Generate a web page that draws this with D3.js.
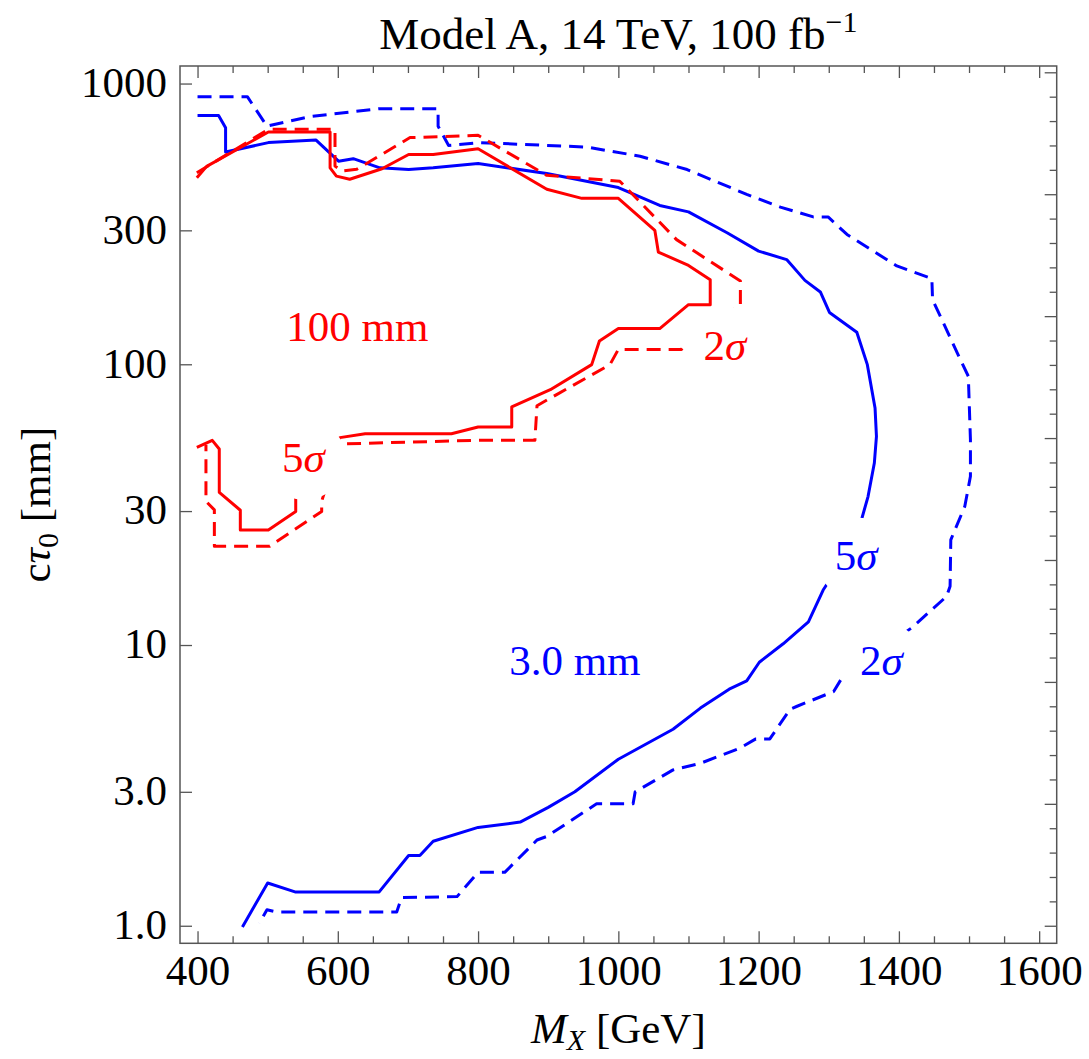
<!doctype html>
<html>
<head>
<meta charset="UTF-8">
<title>Model A, 14 TeV, 100 fb-1</title>
<script src="https://cdn.jsdelivr.net/npm/d3@7"></script>
<style>
  body { margin: 0; background: #fff; }
  svg text { font-family: "Liberation Serif", "Times New Roman", serif; fill: #000; }
</style>
</head>
<body>
<svg id="chart" width="1089" height="1059"></svg>
<script>
// axis ticks
const xTicks = [400, 600, 800, 1000, 1200, 1400, 1600];
const yTicks = [1, 3, 10, 30, 100, 300, 1000];
const yTickLabels = ["1.0", "3.0", "10", "30", "100", "300", "1000"];

// contours, [M_X in GeV, c tau0 in mm]
// 3.0 mm, 5 sigma (blue solid)
const blue5 = [[400,770],[430,770],[440,696],[440,570],[501,616],[569,629],[601,529],[622,540],[660,501],[701,494],[736,501],[800,519],[898,478],[1000,426],[1059,368],[1100,349],[1155,294],[1200,253],[1240,236],[1266,199],[1288,181],[1301,153],[1340,130],[1355,99.7],[1366,69.9],[1368,55.4],[1365,44.5],[1356,33.8],[1345,27.0],[1323,20.6],[1292,15.7],[1271,12.1],[1235,10.1],[1201,8.68],[1183,7.45],[1158,6.96],[1117,5.96],[1078,5.01],[1000,3.92],[938,3.0],[900,2.64],[860,2.34],[800,2.24],[736,2.0],[717,1.78],[701,1.78],[659,1.32],[539,1.32],[500,1.42],[464,0.99]];
// 3.0 mm, 2 sigma (blue dashed)
const blue2 = [[400,898],[471,898],[499,705],[560,762],[660,814],[743,814],[743,705],[758,602],[803,616],[955,594],[1031,551],[1098,494],[1183,403],[1231,363],[1278,335],[1299,335],[1326,290],[1397,224],[1447,202],[1448,170],[1483,110],[1499,90.6],[1502,53.9],[1502,39.9],[1494,31.2],[1474,23.7],[1473,16.2],[1468,14.9],[1418,11.5],[1323,7.94],[1307,6.83],[1254,6.04],[1245,5.91],[1216,4.63],[1196,4.63],[1174,4.30],[1117,3.79],[1078,3.59],[1024,3.0],[1021,2.72],[969,2.72],[898,2.08],[884,2.02],[838,1.55],[800,1.55],[770,1.27],[691,1.26],[684,1.12],[513,1.12],[499,1.14],[488,1.02]];
// 100 mm, 5 sigma (red solid)
const red5 = [[399,462],[413,507],[501,672],[589,672],[589,501],[598,468],[617,456],[663,497],[701,559],[736,559],[800,586],[898,420],[948,390],[1000,390],[1052,300],[1057,251],[1100,225],[1131,200],[1131,163],[1100,163],[1059,134],[1000,134],[973,121],[962,99.7],[903,81.2],[848,70.5],[848,59.8],[800,59.8],[762,56.6],[639,56.6],[603,54.8],[540,34.3],[540,29.9],[501,25.7],[461,25.7],[461,30.2],[431,35.0],[431,49.9],[421,53.6],[399,50.6]];
// 100 mm, 2 sigma (red dashed)
const red2 = [[399,481],[501,687],[596,687],[596,508],[606,488],[627,495],[703,642],[800,654],[898,471],[1002,449],[1083,278],[1174,198],[1174,163],[1098,121],[1090,113],[1000,113],[988,99.7],[912,78.0],[884,71.2],[881,53.6],[796,53.6],[602,52.0],[577,32.5],[577,29.9],[503,22.5],[424,22.5],[424,30.3],[412,32.5],[412,51.7]];

const contours = [
  {pts: blue5, color: "#0000ff", dash: null},
  {pts: blue2, color: "#0000ff", dash: "14,8"},
  {pts: red5, color: "#ff0000", dash: null},
  {pts: red2, color: "#ff0000", dash: "14,8"}
];

// labels: text, sigma?, anchor [M, ctau], colour
const labels = [
  {num: "100 mm", sig: false, at: [628, 120.8], color: "#ff0000"},
  {num: "3.0 mm", sig: false, at: [938, 7.83], color: "#0000ff"},
  {num: "5", sig: true, at: [551, 41.2], color: "#ff0000"},
  {num: "2", sig: true, at: [1152, 103.9], color: "#ff0000"},
  {num: "5", sig: true, at: [1339, 18.5], color: "#0000ff"},
  {num: "2", sig: true, at: [1375, 7.83], color: "#0000ff"}
];

const L = 180, R = 1056.7, T = 66, B = 943.3;
const svg = d3.select("#chart");

const x = d3.scaleLinear().domain([375, 1625]).range([L, R]);
const y = d3.scaleLog().domain([Math.pow(10, -0.0625), Math.pow(10, 3.0625)]).range([B, T]);
const yln = d3.scaleLinear().domain([Math.log(y.domain()[0]), Math.log(y.domain()[1])]).range([B, T]);

const frameColor = "#555";
const fs = 43;

function styleAxis(g) {
  g.select(".domain").remove();
  g.selectAll(".tick line").attr("stroke", frameColor).attr("stroke-width", 1.3);
  g.selectAll(".tick text").style("font-size", fs + "px").attr("fill", "#000");
}

const xMinor = d3.range(400, 1601, 50).filter(v => v % 200 !== 0);
const lnMajor = d3.range(0, 8);
const lnMinor = d3.range(0, 7.01, 0.2).filter(v => Math.abs(v - Math.round(v)) > 0.01);

// bottom
svg.append("g").attr("transform", `translate(0,${B})`)
  .call(d3.axisBottom(x).tickValues(xTicks).tickFormat(d3.format("d")).tickSizeInner(-12).tickSizeOuter(0).tickPadding(11))
  .call(styleAxis);
svg.append("g").attr("transform", `translate(0,${B})`)
  .call(d3.axisBottom(x).tickValues(xMinor).tickSizeInner(-7).tickSizeOuter(0).tickFormat(""))
  .call(styleAxis);
// top
svg.append("g").attr("transform", `translate(0,${T})`)
  .call(d3.axisTop(x).tickValues(xTicks).tickSizeInner(-12).tickSizeOuter(0).tickFormat(""))
  .call(styleAxis);
svg.append("g").attr("transform", `translate(0,${T})`)
  .call(d3.axisTop(x).tickValues(xMinor).tickSizeInner(-7).tickSizeOuter(0).tickFormat(""))
  .call(styleAxis);
// left
svg.append("g").attr("transform", `translate(${L},0)`)
  .call(d3.axisLeft(y).tickValues(yTicks).tickFormat((d, i) => yTickLabels[i]).tickSizeInner(-12).tickSizeOuter(0).tickPadding(13))
  .call(styleAxis)
  .selectAll(".tick text").attr("dy", "0.3em");
// right (natural log scale)
svg.append("g").attr("transform", `translate(${R},0)`)
  .call(d3.axisRight(yln).tickValues(lnMajor).tickSizeInner(-12).tickSizeOuter(0).tickFormat(""))
  .call(styleAxis);
svg.append("g").attr("transform", `translate(${R},0)`)
  .call(d3.axisRight(yln).tickValues(lnMinor).tickSizeInner(-7).tickSizeOuter(0).tickFormat(""))
  .call(styleAxis);

svg.append("rect").attr("x", L).attr("y", T).attr("width", R - L).attr("height", B - T)
  .attr("fill", "none").attr("stroke", frameColor).attr("stroke-width", 1.5);

// mask for label gaps
const defs = svg.append("defs");
const mask = defs.append("mask").attr("id", "gaps").attr("maskUnits", "userSpaceOnUse")
  .attr("x", 0).attr("y", 0).attr("width", 1089).attr("height", 1059);
mask.append("rect").attr("width", 1089).attr("height", 1059).attr("fill", "#fff");

const line = d3.line().x(d => x(d[0])).y(d => y(d[1]));
const cg = svg.append("g").attr("mask", "url(#gaps)");
contours.forEach(c => {
  cg.append("path").attr("d", line(c.pts))
    .attr("fill", "none").attr("stroke", c.color).attr("stroke-width", 3)
    .attr("stroke-linejoin", "round")
    .attr("stroke-dasharray", c.dash);
});

labels.forEach(lb => {
  const t = svg.append("text").attr("x", x(lb.at[0])).attr("y", y(lb.at[1]))
    .attr("text-anchor", "middle").style("font-size", fs + "px");
  t.append("tspan").attr("fill", lb.color).text(lb.num);
  if (lb.sig) {
    t.append("tspan").attr("fill", lb.color).style("font-style", "italic").text("σ");
    const bb = t.node().getBBox();
    mask.append("ellipse").attr("cx", bb.x + bb.width / 2).attr("cy", bb.y + bb.height / 2 + 2)
      .attr("rx", 42).attr("ry", 40).attr("fill", "#000");
  }
});

// title
const title = svg.append("text").attr("x", (L + R) / 2).attr("y", 49)
  .attr("text-anchor", "middle").style("font-size", "45px");
title.append("tspan").text("Model A, 14 TeV, 100 fb");
title.append("tspan").style("font-size", "30px").attr("dy", -17).text("\u22121");

// x label
const xl = svg.append("text").attr("x", (L + R) / 2).attr("y", 1043)
  .attr("text-anchor", "middle").style("font-size", fs + "px");
xl.append("tspan").style("font-style", "italic").text("M");
xl.append("tspan").style("font-style", "italic").style("font-size", "30px").attr("dy", 7).text("X");
xl.append("tspan").attr("dy", -7).text(" [GeV]");

// y label
const yl = svg.append("text").attr("transform", `translate(50,${(T + B) / 2}) rotate(-90)`)
  .attr("text-anchor", "middle").style("font-size", fs + "px");
yl.append("tspan").text("c");
yl.append("tspan").style("font-style", "italic").text("τ");
yl.append("tspan").style("font-size", "30px").attr("dy", 8).text("0");
yl.append("tspan").attr("dy", -8).text(" [mm]");
</script>
</body>
</html>
